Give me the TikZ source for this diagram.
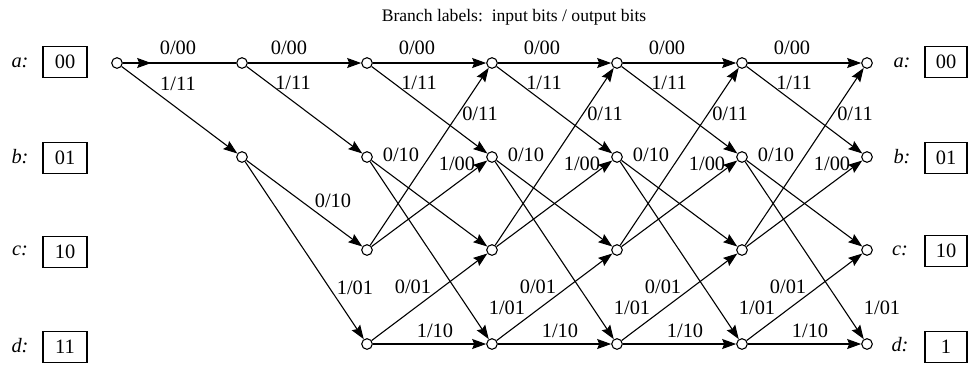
\documentclass[tikz,border=0pt]{standalone}
\usepackage{fontspec}
\setmainfont{Liberation Serif}
\usetikzlibrary{arrows.meta,decorations.markings}
\begin{document}
\begin{tikzpicture}[x=0.5pt,y=-0.5pt,
  st/.style={circle,draw,fill=white,inner sep=0pt,minimum size=5.3pt,line width=0.55pt},
  tip/.tip={Stealth[length=7pt,width=5pt,inset=1pt]},
  br/.style={draw,line width=0.55pt,-tip},
  lab/.style={font=\fontsize{10.2}{12}\selectfont,inner sep=0pt},
  sbox/.style={draw,line width=0.55pt,minimum height=15.5pt,inner sep=0pt,font=\fontsize{10.2}{12}\selectfont},
  sname/.style={font=\fontsize{10.2}{12}\selectfont\itshape,inner sep=0pt}]
\useasboundingbox (0,0) rectangle (972,365);

% title
\node[font=\fontsize{8.8}{10}\selectfont,inner sep=0pt] (title) at (514,17) {Branch labels:\ \ input bits / output bits};

% state names and boxes, left
\node[sname] (la) at (20,63) {a:};
\node[sname] (lb) at (20,157) {b:};
\node[sname] (lc) at (20,251) {c:};
\node[sname] (ld) at (20,346) {d:};
\node[sbox,minimum width=22pt] (ba) at (65,62) {00};
\node[sbox,minimum width=22pt] (bb) at (65,158) {01};
\node[sbox,minimum width=22pt] (bc) at (65,252) {10};
\node[sbox,minimum width=22pt] (bd) at (65,347) {11};
% right
\node[sname] (ra) at (902,63) {a:};
\node[sname] (rb) at (902,157) {b:};
\node[sname] (rc) at (900,251) {c:};
\node[sname] (rd) at (900,345) {d:};
\node[sbox,minimum width=21pt] (rba) at (946,62) {00};
\node[sbox,minimum width=21pt] (rbb) at (946,158) {01};
\node[sbox,minimum width=21pt] (rbc) at (946,251) {10};
\node[sbox,minimum width=21pt] (rbd) at (946,347) {1};

% trellis nodes
\node[st] (a0) at (117,63) {};
\node[st] (a1) at (242,63) {};
\node[st] (b1) at (242,157) {};
\foreach \i/\x in {2/367,3/492,4/617,5/742,6/867}{
  \node[st] (a\i) at (\x,63) {};
  \node[st] (b\i) at (\x,157) {};
  \node[st] (c\i) at (\x,250) {};
  \node[st] (d\i) at (\x,344) {};
}

% column 0
\draw[line width=0.55pt,postaction={decorate},
  decoration={markings,mark=at position 0.25 with {\arrow{tip}}}] (a0) -- (a1);
\draw[br] (a0) -- (b1);
\node[lab] (l00x0) at (178,48) {0/00};
\node[lab] (l11x0) at (178,84) {1/11};

% column 1
\draw[br] (a1) -- (a2);
\draw[br] (a1) -- (b2);
\draw[br] (b1) -- (c2);
\draw[br] (b1) -- (d2);
\node[lab] (l00x1) at (289,48) {0/00};
\node[lab] (l11x1) at (293,83) {1/11};
\node[lab] (l10x1) at (333,201) {0/10};
\node[lab] (l01x1) at (355,288) {1/01};

% columns 2..5
\foreach \i/\j/\x in {2/3/367,3/4/492,4/5/617,5/6/742}{
  \draw[br] (a\i) -- (a\j);
  \draw[br] (a\i) -- (b\j);
  \draw[br] (b\i) -- (c\j);
  \draw[br] (b\i) -- (d\j);
  \draw[br] (c\i) -- (a\j);
  \draw[br] (c\i) -- (b\j);
  \draw[br] (d\i) -- (c\j);
  \draw[br] (d\i) -- (d\j);
  \node[lab] (p00x\i) at (\x+50,48) {0/00};
  \node[lab] (p11x\i) at (\x+52,83) {1/11};
  \node[lab] (q11x\i) at (\x+113,114) {0/11};
  \node[lab] (q10x\i) at (\x+34,155) {0/10};
  \node[lab] (q00x\i) at (\x+90,164) {1/00};
  \node[lab] (r01x\i) at (\x+46,287) {0/01};
  \node[lab] (s01x\i) at (\x+140,308) {1/01};
  \node[lab] (s10x\i) at (\x+68,331) {1/10};
}
\end{tikzpicture}
\end{document}
